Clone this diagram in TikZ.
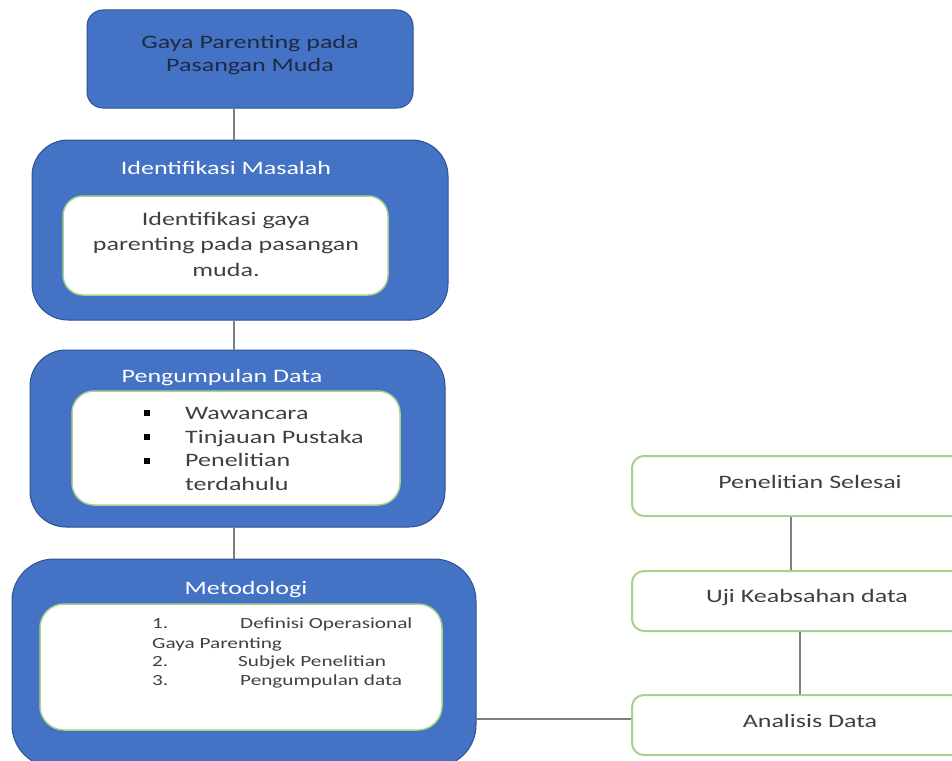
\documentclass[tikz,border=0pt]{standalone}
\usepackage{fontspec}
\setmainfont[FakeStretch=1.37]{Carlito}
\definecolor{boxblue}{HTML}{4472C4}
\definecolor{boxedge}{HTML}{2F528F}
\definecolor{greenedge}{HTML}{A9D18E}
\definecolor{conngray}{HTML}{7F7F7F}
\definecolor{navytext}{HTML}{1F2A44}
\definecolor{graytext}{HTML}{404040}
\begin{document}
\begin{tikzpicture}[x=1pt,y=-1pt,
  bluebox/.style={draw=boxedge, fill=boxblue, line width=1pt, rounded corners=#1, inner sep=0pt},
  bluebox/.default=30pt,
  innerbox/.style={draw=greenedge, fill=white, line width=1.5pt, rounded corners=#1, inner sep=0pt},
  innerbox/.default=20pt,
  rightbox/.style={draw=greenedge, fill=white, line width=2pt, rounded corners=12pt, inner sep=0pt,
    minimum width=356pt, minimum height=60pt},
  conn/.style={draw=conngray, line width=2pt},
  bigtxt/.style={inner sep=0pt, font=\fontsize{19}{23}\selectfont},
  smalltxt/.style={inner sep=0pt, font=\fontsize{15.5}{19}\selectfont, text=graytext,
    text height=0.7em, text depth=0.25em},
  listtxt/.style={bigtxt, text=graytext, text height=0.7em, text depth=0.25em},
  bullet/.style={fill=black, minimum size=5.5pt, inner sep=0pt}
]
\useasboundingbox (0,0) rectangle (952,760);
\clip (0,0) rectangle (952,760);

% left column boxes
\node[bluebox=16pt, minimum width=326pt, minimum height=98pt] (b1) at (250,59) {};
\node[bluebox=36pt, minimum width=416pt, minimum height=180pt] (b2) at (240,230) {};
\node[bluebox=36pt, minimum width=415pt, minimum height=177pt] (b3) at (237.5,438.5) {};
\node[bluebox=42pt, minimum width=464pt, minimum height=208pt] (b4) at (244,663) {};

\node[innerbox=20pt, minimum width=325pt, minimum height=99pt] (i2) at (225.5,245.5) {};
\node[innerbox=22pt, minimum width=328pt, minimum height=114pt] (i3) at (236,448) {};
\node[innerbox=24pt, minimum width=402pt, minimum height=126pt] (i4) at (241,667) {};

% right column boxes
\node[rightbox] (r1) at (810,486) {};
\node[rightbox] (r2) at (810,601) {};
\node[rightbox] (r3) at (810,725) {};

% connectors
\coordinate (cx) at (234,0);
\draw[conn] (b1.south -| cx) -- (b2.north -| cx);
\draw[conn] (b2.south -| cx) -- (b3.north -| cx);
\draw[conn] (b3.south -| cx) -- (b4.north -| cx);
\coordinate (cr1) at (791,0);
\draw[conn] (r1.south -| cr1) -- (r2.north -| cr1);
\coordinate (cr2) at (800,0);
\draw[conn] (r2.south -| cr2) -- (r3.north -| cr2);
\coordinate (cy) at (0,719);
\draw[conn] (b4.east |- cy) -- (r3.west |- cy);

% texts
\node[bigtxt, text=navytext, align=center] (t1) at (250,55) {Gaya Parenting pada\\Pasangan Muda};

\node[bigtxt, text=white] (h2) at (226,168) {Identifikasi Masalah};
\node[bigtxt, text=graytext, align=center, font=\fontsize{19}{25.5}\selectfont] (t2) at (226,244)
  {Identifikasi gaya\\parenting pada pasangan\\muda.};

\node[bigtxt, text=white] (h3) at (222,378) {Pengumpulan Data};
\node[bullet] (bu1) at (147,413) {};
\node[bullet] (bu2) at (147,437) {};
\node[bullet] (bu3) at (147,461) {};
\node[listtxt, anchor=west] (l1) at (185,417) {Wawancara};
\node[listtxt, anchor=west] (l2) at (185,441) {Tinjauan Pustaka};
\node[listtxt, anchor=west] (l3) at (185,464) {Penelitian};
\node[listtxt, anchor=west] (l4) at (185,488) {terdahulu};

\node[bigtxt, text=white] (h4) at (246,590) {Metodologi};
\node[smalltxt, anchor=west] (n1) at (152,626) {1.};
\node[smalltxt, anchor=west] (m1) at (240,626) {Definisi Operasional};
\node[smalltxt, anchor=west] (m1b) at (152,646) {Gaya Parenting};
\node[smalltxt, anchor=west] (n2) at (152,664) {2.};
\node[smalltxt, anchor=west] (m2) at (238,664) {Subjek Penelitian};
\node[smalltxt, anchor=west] (n3) at (152,683) {3.};
\node[smalltxt, anchor=west] (m3) at (240,683) {Pengumpulan data};

\node[bigtxt, text=graytext] (rt1) at (810,482) {Penelitian Selesai};
\node[bigtxt, text=graytext] (rt2) at (807,598) {Uji Keabsahan data};
\node[bigtxt, text=graytext] (rt3) at (810,721) {Analisis Data};
\end{tikzpicture}
\end{document}
